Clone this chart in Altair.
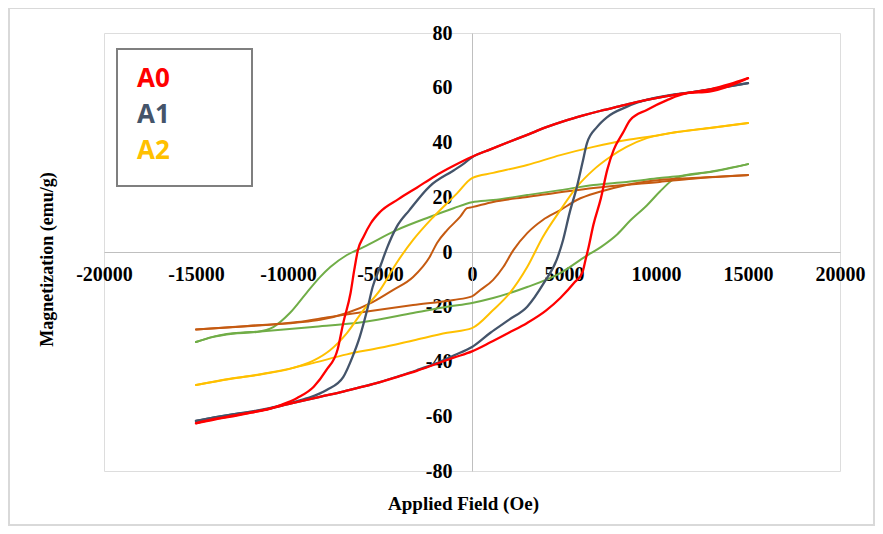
import altair as alt
import pandas as pd

# ---------------- data ----------------
series_names = ["A0", "A1", "A2", "Series 4", "Series 5"]
legend_labels = ["A0", "A1", "A2"]

# A0 (red)
a0_up_x = [-15000, -14000, -13000, -12000, -11000, -10000, -9000, -8000, -7000, -6000, -5000, -4000, -3000, -2000, -1000, 0,
           1000, 2000, 3000, 4000, 4800, 5600, 6000, 6200, 6300, 6600, 7000, 7350, 7700, 8200, 8600, 9500, 10600, 11700, 12900, 13900, 15000]
a0_up_y = [-62.5, -61.0, -59.8, -58.6, -57.2, -55.6, -54.0, -52.5, -51.0, -49.3, -47.5, -45.5, -43.4, -41.0, -38.6, -36.3,
           -33.0, -29.5, -25.9, -21.5, -16.8, -10.9, -7.5, -2.0, 0.7, 10.0, 19.5, 30.0, 37.3, 43.5, 48.2, 51.9, 55.5, 58.0, 58.6, 60.4, 63.5]
a0_dn_x = [15000, 14000, 13000, 12000, 11000, 10000, 9000, 8000, 7000, 6000, 5000, 4000, 3000, 2000, 1000, 0,
           -1000, -2000, -3000, -4000, -5000, -5500, -5900, -6200, -6400, -6600, -7000, -7300, -7900, -8600, -9500, -10400, -11000, -12000, -13000, -14000, -15000]
a0_dn_y = [63.5, 61.3, 59.5, 58.4, 57.4, 56.2, 54.8, 53.2, 51.6, 49.8, 47.8, 45.5, 42.8, 40.2, 37.5, 34.8,
           31.5, 27.8, 23.5, 19.3, 14.6, 10.5, 5.5, 0.7, -6.6, -15.0, -26.0, -35.5, -43.0, -49.2, -53.3, -55.9, -57.3, -58.7, -60.0, -61.2, -62.6]

# A1 (slate)
a1_up_x = [-15000, -14000, -13000, -12000, -11000, -10000, -9000, -8000, -7000, -6000, -5000, -4000, -3000, -2000, -1000, 0,
           1000, 2000, 3000, 3900, 4600, 4950, 5300, 5700, 6000, 6250, 6800, 7350, 8400, 9000, 10000, 11000, 12000, 13000, 14000, 15000]
a1_up_y = [-61.7, -60.4, -59.3, -58.4, -57.2, -55.6, -54.0, -52.5, -51.0, -49.3, -47.5, -45.4, -43.2, -40.8, -37.8, -34.7,
           -29.5, -24.8, -20.0, -11.4, -2.9, 4.4, 14.2, 23.8, 32.5, 39.8, 45.7, 49.3, 53.0, 54.6, 56.4, 57.6, 58.4, 59.4, 60.5, 61.7]
a1_dn_x = [15000, 14000, 13000, 12000, 11000, 10000, 9000, 8000, 7000, 6000, 5000, 4000, 3000, 2000, 1000, 0,
           -500, -1000, -2300, -3400, -4100, -4600, -5000, -5400, -5700, -6100, -6500, -7000, -7900, -9000, -10000, -11000, -12000, -13000, -14000, -15000]
a1_dn_y = [61.7, 60.6, 59.5, 58.4, 57.4, 56.2, 54.8, 53.2, 51.6, 49.8, 47.8, 45.5, 42.8, 40.2, 37.5, 34.6,
           32.0, 29.8, 24.0, 15.3, 9.1, 1.8, -5.5, -12.8, -21.2, -31.0, -38.4, -45.7, -50.4, -53.5, -55.4, -57.0, -58.3, -59.3, -60.4, -61.7]

# A2 (amber)
a2_up_x = [-15000, -13150, -11350, -9900, -8650, -6800, -5000, -3200, -1350, 0, 1150, 2050, 3000, 3850, 4800, 5700, 6600, 7500, 8400, 9500, 11150, 12950, 15000]
a2_up_y = [-48.6, -46.3, -44.5, -42.6, -40.6, -37.4, -35.0, -32.3, -29.5, -27.8, -21.2, -15.0, -5.5, 5.5, 15.3, 23.8, 30.0, 34.7, 38.4, 41.6, 43.8, 45.3, 47.1]
a2_dn_x = [15000, 13000, 11150, 10000, 8400, 6600, 4800, 3000, 1150, 0, -800, -2100, -3200, -4100, -5000, -5900, -6800, -7700, -8650, -9900, -11350, -13150, -15000]
a2_dn_y = [47.1, 45.4, 43.8, 42.5, 40.9, 38.4, 35.4, 31.8, 28.9, 27.0, 21.5, 12.8, 4.4, -4.0, -13.9, -21.2, -29.6, -35.8, -39.8, -42.7, -44.6, -46.4, -48.6]

# Series 4 (green)
s4_up_x = [-15000, -14100, -13000, -11500, -8650, -5900, -3200, -1350, 0, 1150, 3000, 4800, 6200, 7000, 7900, 8600, 9500, 10200, 10900, 11650, 12950, 15000]
s4_up_y = [-32.9, -31.0, -29.7, -29.0, -27.4, -25.6, -22.3, -20.0, -18.6, -16.8, -12.8, -7.7, -1.5, 1.8, 6.5, 11.5, 17.0, 22.0, 26.3, 28.1, 29.2, 32.1]
s4_dn_x = [15000, 12000, 10200, 8400, 6600, 4800, 3000, 1150, 0, -1000, -2300, -4100, -5900, -6800, -7700, -8250, -9000, -9900, -10800, -11700, -13000, -14100, -15000]
s4_dn_y = [32.1, 28.3, 27.0, 25.6, 24.5, 22.6, 20.8, 19.0, 18.2, 16.0, 12.8, 8.0, 1.8, -1.1, -5.5, -9.1, -15.0, -22.3, -27.4, -29.2, -29.9, -31.1, -32.9]

# Series 5 (brown)
s5_up_x = [-15000, -12200, -9500, -7700, -5900, -3200, -1000, 0, 450, 1150, 1700, 2250, 3000, 3850, 4800, 5700, 6950, 8400, 10200, 12000, 15000]
s5_up_y = [-28.3, -27.0, -25.6, -23.7, -21.9, -19.4, -17.5, -16.2, -13.9, -10.2, -5.5, 0.7, 6.9, 11.7, 15.3, 19.0, 22.0, 24.5, 26.3, 27.0, 28.1]
s5_dn_x = [15000, 12000, 10200, 6600, 3000, 1150, 0, -270, -650, -1350, -1900, -2300, -3200, -4300, -5400, -6800, -8250, -9500, -12200, -15000]
s5_dn_y = [28.1, 26.8, 25.6, 23.4, 20.1, 18.3, 16.4, 16.0, 12.8, 8.0, 3.3, -1.8, -9.1, -13.9, -18.3, -22.3, -24.8, -25.8, -27.1, -28.3]

x_ticks = [-20000, -15000, -10000, -5000, 0, 5000, 10000, 15000, 20000]
y_ticks = [-80, -60, -40, -20, 0, 20, 40, 60, 80]

# ---------------- styles ----------------
series_colors = ["#FF0000", "#44546A", "#FFC000", "#70AD47", "#C55A11"]
draw_order = ["Series 4", "Series 5", "A2", "A1", "A0"]

loops = {
    "A0": (a0_up_x, a0_up_y, a0_dn_x, a0_dn_y),
    "A1": (a1_up_x, a1_up_y, a1_dn_x, a1_dn_y),
    "A2": (a2_up_x, a2_up_y, a2_dn_x, a2_dn_y),
    "Series 4": (s4_up_x, s4_up_y, s4_dn_x, s4_dn_y),
    "Series 5": (s5_up_x, s5_up_y, s5_dn_x, s5_dn_y),
}
rows = []
for name, (ux, uy, dx, dy) in loops.items():
    for a, b in zip(ux, uy):
        rows.append({"series": name, "branch": "up", "H": a, "M": b})
    for a, b in zip(dx, dy):
        rows.append({"series": name, "branch": "down", "H": a, "M": b})
df = pd.DataFrame(rows)

serif = "Liberation Serif"

x_enc = alt.X(
    "H:Q",
    scale=alt.Scale(domain=[-20000, 20000], nice=False, zero=False),
    axis=alt.Axis(
        values=x_ticks, orient="bottom", offset=-219, grid=False, ticks=False,
        domainColor="#BFBFBF", domainWidth=1,
        labelFont=serif, labelFontWeight="bold", labelFontSize=20, labelColor="black",
        labelPadding=12, labelFlush=False, labelOverlap=False, labelBound=False,
        labelExpr="toString(datum.value)",
        title="Applied Field (Oe)", titleFont=serif, titleFontWeight="bold", titleFontSize=19,
        titleColor="black", titleX=359, titleY=251, titleBaseline="middle", titleAlign="center",
    ),
)
y_enc = alt.Y(
    "M:Q",
    scale=alt.Scale(domain=[-80, 80], nice=False, zero=False),
    axis=alt.Axis(
        values=y_ticks, orient="left", offset=-368, grid=False, ticks=False,
        domainColor="#BFBFBF", domainWidth=1,
        labelFont=serif, labelFontWeight="bold", labelFontSize=20, labelColor="black",
        labelPadding=20, labelFlush=False, labelOverlap=False, labelBound=False,
        labelExpr="toString(datum.value)",
        title="Magnetization (emu/g)", titleFont=serif, titleFontWeight="bold", titleFontSize=18,
        titleColor="black", titleX=-425, titleY=226, titleAngle=270,
        titleBaseline="middle", titleAlign="center",
    ),
)

color_scale = alt.Scale(domain=series_names, range=series_colors)

one = pd.DataFrame({"k": [0]})

outer = alt.Chart(one).mark_rect(fillOpacity=0, stroke="#D9D9D9", strokeWidth=2).encode(
    x=alt.value(-95), x2=alt.value(770), y=alt.value(-25), y2=alt.value(492)
)

layers = [outer]
for s in draw_order:
    layers.append(
        alt.Chart(df)
        .transform_filter(alt.datum.series == s)
        .mark_line(interpolate="monotone", strokeWidth=2.3 if s in ("A0", "A1") else 2,
                   strokeCap="round", strokeJoin="round")
        .encode(x=x_enc, y=y_enc, detail="branch:N",
                color=alt.Color("series:N", scale=color_scale, legend=None))
    )

legend_box = alt.Chart(one).mark_rect(fill="white", stroke="#7F7F7F", strokeWidth=2).encode(
    x=alt.value(13), x2=alt.value(148), y=alt.value(16), y2=alt.value(153)
)
layers.append(legend_box)
for i, lab in enumerate(legend_labels):
    layers.append(
        alt.Chart(one).mark_text(
            text=lab, align="left", baseline="middle", font="Open Sans", fontWeight="bold",
            fontSize=26, color=series_colors[i]
        ).encode(x=alt.value(33), y=alt.value(46 + 36 * i))
    )

chart = (
    alt.layer(*layers)
    .properties(width=736, height=438,
                autosize=alt.AutoSizeParams(type="none"),
                padding={"left": 96, "top": 25, "right": 35, "bottom": 55})
    .configure_view(stroke="#404040", strokeWidth=1.5)
    .configure(background="white")
)

chart.save("out.html", embed_options={"renderer": "svg", "actions": False})
